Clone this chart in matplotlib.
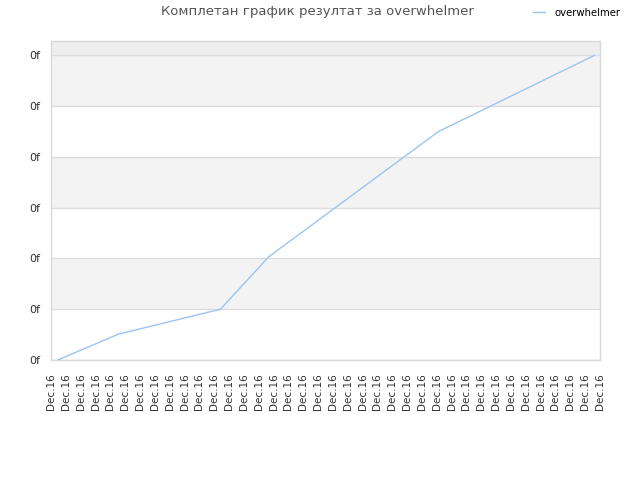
import matplotlib
matplotlib.use("Agg")
import matplotlib.pyplot as plt

# data (x in tick-index units, y in tick units)
x_vals = [0.46, 4.55, 11.42, 14.66, 26.11, 36.62]
y_vals = [0.0, 0.51, 1.0, 2.03, 4.5, 6.0]
x_labels = ["Dec.16"] * 38
y_labels = ["0f"] * 7
series_name = "overwhelmer"
title = "Комплетан график резултат за overwhelmer"

fig = plt.figure(figsize=(6.4, 4.8), dpi=100)
ax = fig.add_axes([51/640, 1-360/480, (600-51)/640, (360-40.7)/480])

ymax = 6.29
ax.set_xlim(0, len(x_labels) - 1)
ax.set_ylim(0, ymax)

# alternating bands
for lo in range(0, 7):
    hi = min(lo + 1, ymax)
    if lo == 6:
        color = "#eeeeee"
    elif lo % 2 == 1:
        color = "#f3f3f3"
    else:
        color = "#ffffff"
    ax.axhspan(lo, hi, color=color, zorder=0, lw=0)

ax.set_yticks(range(len(y_labels)))
ax.set_yticklabels(y_labels)
ax.set_xticks(range(len(x_labels)))
ax.set_xticklabels(x_labels, rotation=90)
ax.grid(axis="y", color="#dddddd", lw=1, zorder=1)
ax.grid(axis="x", visible=False)
ax.tick_params(axis="both", length=0, labelsize=7.5, colors="#333333")
ax.tick_params(axis="y", pad=7.5, labelsize=8)
ax.tick_params(axis="x", pad=9.5)
for s in ax.spines.values():
    s.set_color("#d9d9d9")
    s.set_linewidth(1)

ax.plot(x_vals, y_vals, color="#99c5f2", lw=1, zorder=3, label=series_name)

fig.text(317/640, 1-12/480, title, ha="center", va="center", fontsize=9.5, color="#555555")
fig.legend(handles=ax.get_lines(), labels=[series_name], loc="center left",
           bbox_to_anchor=(533/640, 1-13/480), frameon=False, fontsize=7.3,
           handlelength=1.2, handletextpad=0.9, borderpad=0, borderaxespad=0)

fig.savefig("out.png", dpi=100)
